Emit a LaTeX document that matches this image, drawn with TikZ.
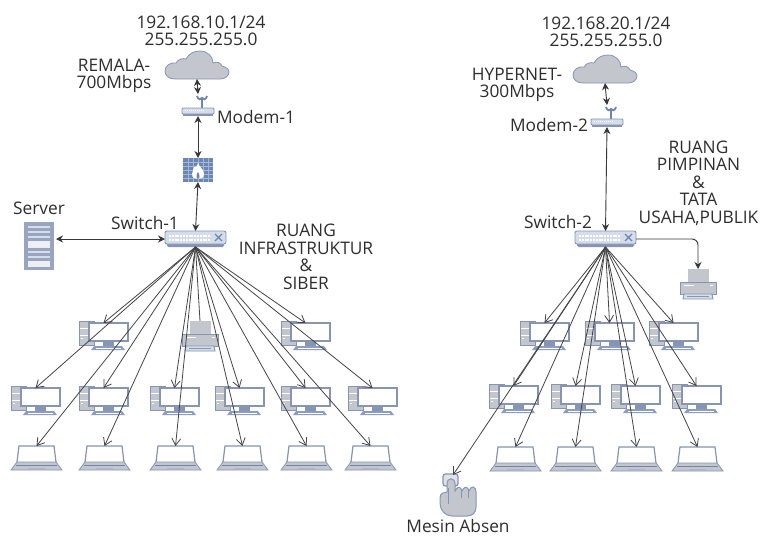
\documentclass[tikz,border=0pt]{standalone}
\usepackage{fontspec}
\setmainfont{Open Sans}
\usetikzlibrary{arrows.meta}
\definecolor{icg}{HTML}{C4C6CD}
\definecolor{icb}{HTML}{8794B2}
\definecolor{icd}{HTML}{6F84AE}
\definecolor{icl}{HTML}{D5DCEA}
\definecolor{fwb}{HTML}{6C86B4}
\definecolor{txt}{HTML}{2E2E2E}
\definecolor{wire}{HTML}{454545}
\tikzset{
  anchorbox/.style={inner sep=0pt,outer sep=0pt,rectangle},
  lbl/.style={font=\fontsize{17.3}{17.5}\selectfont,text=txt,align=center,inner sep=0pt},
  fan/.style={draw=wire,line width=.8pt,-{Straight Barb[length=7pt,width=9pt]}},
  fanplain/.style={draw=wire,line width=.8pt},
  both/.style={draw=wire!80!black,line width=.9pt,{Stealth[length=7pt,width=7pt]}-{Stealth[length=7pt,width=7pt]}},
}
\newcommand{\pcicon}[3]{%
\begin{scope}[shift={(#2,#3)}]
  \node[anchorbox,anchor=north,minimum width=49pt,minimum height=26pt] (#1) at (24.5,2) {};
  \fill[icg,draw=icb,line width=1pt] (0,0) rectangle (15,24);
  \draw[white,line width=.7pt] (1,7) -- (10,7) (1,14) -- (10,14);
  \fill[white] (2,17) rectangle (4,18);
  \fill[white,draw=icb,line width=1.3pt] (10,2) rectangle (49,20);
  \fill[icb] (24,20.5) rectangle (35,25);
  \fill[icd!80] (15,25) -- (43,25) -- (46,29) -- (12,29) -- cycle;
  \draw[white,line width=.4pt] (17,27) -- (42,27);
\end{scope}}
\newcommand{\lapicon}[3]{%
\begin{scope}[shift={(#2,#3)}]
  \node[anchorbox,anchor=north,minimum width=51pt,minimum height=24pt] (#1) at (25.5,0) {};
  \fill[white] (8,0) -- (43,0) -- (45,16) -- (6,16) -- cycle;
  \draw[icb,line width=1.2pt] (6,16) -- (8,0) -- (43,0) -- (45,16);
  \fill[icg,draw=icb,line width=.8pt] (6,16) -- (45,16) -- (51,24) -- (0,24) -- cycle;
  \draw[icd,line width=.8pt] (5,19) -- (46,19);
  \draw[icb!70,line width=.6pt] (17,22.5) -- (34,22.5);
\end{scope}}
\newcommand{\prnicon}[3]{%
\begin{scope}[shift={(#2,#3)}]
  \node[anchorbox,anchor=north,minimum width=36pt,minimum height=30pt] (#1) at (18,0) {};
  \fill[icg] (8,0) rectangle (29,13);
  \fill[icg,draw=icb,line width=.9pt] (0,13) rectangle (36,25);
  \draw[white,line width=1pt] (4,16) -- (14,16) (30,16) -- (33,16);
  \fill[icl,draw=icb,line width=.9pt] (4,25) -- (32,25) -- (33,30) -- (3,30) -- cycle;
  \draw[icb,line width=.7pt] (7,27) -- (29,27);
\end{scope}}
\newcommand{\cloudicon}[3]{%
\begin{scope}[shift={(#2,#3)}]
  \node[anchorbox,anchor=north,minimum width=64pt,minimum height=28pt] (#1) at (32,0) {};
  \fill[icg,draw=icb,line width=.8pt] (10,28) .. controls (3,28) and (0,24) .. (0,20)
    .. controls (0,15) and (5,11) .. (11,12) .. controls (13,8) and (18,7) .. (21,8)
    .. controls (24,2) and (30,0) .. (35,0) .. controls (43,0) and (48,6) .. (48,12)
    .. controls (52,10) and (56,12) .. (57,15) .. controls (62,16) and (64,19) .. (64,21)
    .. controls (64,25) and (60,28) .. (55,28) -- cycle;
\end{scope}}
\newcommand{\modemicon}[3]{%
\begin{scope}[shift={(#2,#3)}]
  \node[anchorbox,anchor=south,minimum width=32pt,minimum height=22pt] (#1) at (16,22) {};
  \draw[icd,line width=1.1pt] (20,14) -- (20,5);
  \draw[icd,line width=1.8pt] (15,2) .. controls (16,6) and (19,6) .. (20,4) .. controls (21,6) and (24,6) .. (25,2);
  \fill[icl,draw=icb,line width=.8pt,rounded corners=1pt] (0,14) rectangle (32,20);
  \draw[white,line width=1.2pt,dash pattern=on 1pt off 1pt] (3,16.5) -- (22,16.5);
  \fill[icb] (1,20) rectangle (31,22);
\end{scope}}
\newcommand{\switchicon}[3]{%
\begin{scope}[shift={(#2,#3)}]
  \node[anchorbox,anchor=north west,minimum width=61pt,minimum height=16pt] (#1) at (0,0) {};
  \fill[icb,rounded corners=1.5pt] (2,8) rectangle (59,16);
  \fill[icl,draw=icb,line width=.9pt,rounded corners=2pt] (0,0) rectangle (61,13);
  \draw[white,line width=2pt,dash pattern=on 2pt off .8pt] (4,4.5) -- (46,4.5) (4,8.5) -- (46,8.5);
  \draw[icd,line width=1.1pt] (50,3) -- (57,10) (57,3) -- (50,10);
\end{scope}}
\begin{document}
\begin{tikzpicture}[x=1pt,y=-1pt]
\useasboundingbox (0,0) rectangle (760,536);
\fill[white] (0,0) rectangle (760,536);

% ---- left network icons
\cloudicon{cloudA}{165}{51}
\modemicon{modemA}{182}{94}
\node[anchorbox,minimum width=30pt,minimum height=24pt,fill=fwb] (fw) at (198,170) {};
\foreach \yy in {162,166,170,174,178} \draw[fwb!60!white,line width=.4pt] (183,\yy) -- (213,\yy);
\foreach \xx in {188,193,198,203,208} \draw[fwb!60!white,line width=.4pt] (\xx,158) -- (\xx,182);
\fill[white] (198,163) .. controls (199,167) and (204,169) .. (204,174) .. controls (204,178) and (201,179) .. (198,179)
  .. controls (195,179) and (192,178) .. (192,174) .. controls (192,171) and (194,170) .. (194,167)
  .. controls (196,168) and (197,166) .. (198,163) -- cycle;
\fill[fwb] (198,172) .. controls (200,174) and (200,179) .. (198,179) .. controls (196,179) and (196,174) .. (198,172) -- cycle;
\switchicon{swA}{165}{231}
\node[anchorbox,minimum width=30pt,minimum height=48pt,fill=icb!85] (srv) at (39,246) {};
\foreach \yy in {226,231,236} \fill[icl] (28,\yy) rectangle (50,\yy+2.4);
\fill[white!85!icb] (28,241) rectangle (50,248);
\foreach \yy in {251,256} \fill[icl] (28,\yy) rectangle (50,\yy+2.4);
\fill[white!85!icb] (28,261) rectangle (50,267);

\pcicon{pa1}{79}{321}
\prnicon{pra}{182}{321}
\pcicon{pa2}{281}{321}
\pcicon{pb1}{11}{386}
\pcicon{pb2}{79}{386}
\pcicon{pb3}{150}{386}
\pcicon{pb4}{215}{386}
\pcicon{pb5}{281}{386}
\pcicon{pb6}{348}{386}
\lapicon{la1}{11}{446}
\lapicon{la2}{79}{446}
\lapicon{la3}{150}{446}
\lapicon{la4}{217}{446}
\lapicon{la5}{281}{446}
\lapicon{la6}{345}{446}

% ---- right network icons
\cloudicon{cloudB}{573}{55}
\modemicon{modemB}{591}{105}
\switchicon{swB}{575}{231}
\prnicon{prb}{680}{269}
\pcicon{qa1}{520}{321}
\pcicon{qa2}{585}{321}
\pcicon{qa3}{649}{321}
\pcicon{qb1}{489}{384}
\pcicon{qb2}{551}{384}
\pcicon{qb3}{611}{384}
\pcicon{qb4}{672}{384}
\lapicon{ma1}{490}{447}
\lapicon{ma2}{550}{447}
\lapicon{ma3}{611}{447}
\lapicon{ma4}{672}{447}
% hand
\node[anchorbox,anchor=north,minimum width=36pt,minimum height=42pt] (hand) at (453,475) {};
\draw[icb,line width=1.3pt,fill=icg!50,rounded corners=2.5pt] (443,486) -- (443,474) -- (458,474) -- (458,486) -- cycle;
\fill[icg,draw=icb,line width=1pt] (447,484) .. controls (447,477) and (455,477) .. (455,484) -- (455,491)
  .. controls (457,486) and (461,486) .. (462,491) .. controls (464,486) and (468,486) .. (469,491)
  .. controls (471,485) and (476,486) .. (476,492) -- (476,507) .. controls (476,513) and (472,516) .. (467,516)
  -- (452,516) .. controls (445,516) and (440,510) .. (440,503) -- (440,498) .. controls (440,493) and (444,492) .. (447,492) -- cycle;
\draw[icb,line width=.9pt] (448,488) -- (448,504) (461,491) -- (461,498) (468,491) -- (468,498);

% ---- connectors
\draw[both] (cloudA.south) -- (modemA.north);
\draw[both] (modemA.south) -- (fw.north);
\draw[both] (fw.south) -- (swA.north);
\draw[both] (srv.east |- swA.west) ++(2,0) -- (swA.west);
\foreach \t in {pa1,pa2,pb1,pb2,pb3,pb4,pb5,pb6,la1,la2,la3,la4,la5,la6}
  \draw[fan] (swA.south) -- (\t.north);
\draw[fanplain] (swA.south) -- (pra.north);

\draw[both] (cloudB.south) -- (modemB.north);
\draw[both] (modemB.south) -- (swB.north);
\draw[draw=wire!80!black,line width=.9pt,-{Stealth[length=7pt,width=7pt]},rounded corners=6pt] (swB.east) -| (prb.north);
\foreach \t in {qa1,qa2,qa3,qb1,qb2,qb3,qb4,ma1,ma2,ma3,ma4,hand}
  \draw[fan] (swB.south) -- (\t.north);

% ---- labels
\node[lbl] (t1) at (201,31) {192.168.10.1/24\\255.255.255.0};
\node[lbl] (t2) at (114,76) {REMALA-\\700Mbps};
\node[lbl] (t3) at (256,117) {Modem-1};
\node[lbl] (t4) at (39,208) {Server};
\node[lbl] (t5) at (145,223) {Switch-1};
\node[lbl] (t6) at (306,257) {RUANG\\INFRASTRUKTUR\\\&\\SIBER};
\node[lbl] (t7) at (606,32) {192.168.20.1/24\\255.255.255.0};
\node[lbl] (t8) at (517,85) {HYPERNET-\\300Mbps};
\node[lbl] (t9) at (549,125) {Modem-2};
\node[lbl] (t10) at (558,222) {Switch-2};
\node[lbl] (t11) at (698.5,183) {RUANG\\PIMPINAN\\\&\\TATA\\USAHA,PUBLIK};
\node[lbl] (t12) at (458,526.5) {Mesin Absen};
\end{tikzpicture}
\end{document}
